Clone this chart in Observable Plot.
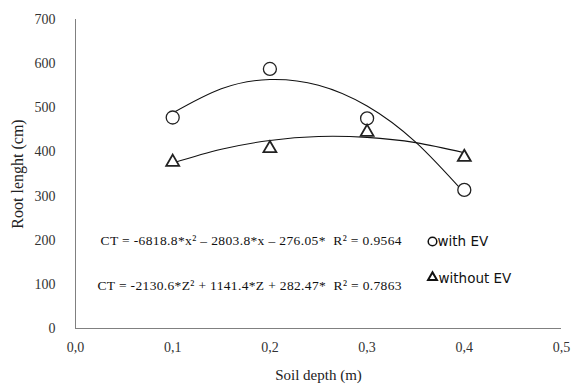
<!DOCTYPE html>
<html>
<head>
<meta charset="utf-8">
<script src="https://cdn.jsdelivr.net/npm/d3@7"></script>
<script src="https://cdn.jsdelivr.net/npm/@observablehq/plot@0.6"></script>
<style>
  html, body { margin: 0; padding: 0; background: #fff; }
  #chart svg { display: block; }
</style>
</head>
<body>
<div id="chart"></div>
<script>
// Observed points
const depths = [0.1, 0.2, 0.3, 0.4];
const withEV = [478, 588, 476, 314];
const withoutEV = [377, 408, 445, 388];

// Trend lines
const trendDepths = [0.1, 0.15, 0.2, 0.25, 0.3, 0.35, 0.4];
const trendWithEV = [488, 543, 564, 551, 504, 422, 307];
const trendWithoutEV = [375, 406, 426, 435, 433, 421, 398];

// Ticks and texts
const xTicks = [0, 0.1, 0.2, 0.3, 0.4, 0.5];
const yTicks = [0, 100, 200, 300, 400, 500, 600, 700];
const eqWith = "CT = -6818.8*x² – 2803.8*x – 276.05*  R² = 0.9564";
const eqWithout = "CT = -2130.6*Z² + 1141.4*Z + 282.47*  R² = 0.7863";
const legendWith = "with EV";
const legendWithout = "without EV";
const xLabel = "Soil depth (m)";
const yLabel = "Root lenght (cm)";

const pts = depths.map((d, i) => ({d, w: withEV[i], wo: withoutEV[i]}));
const trend = trendDepths.map((d, i) => ({d, w: trendWithEV[i], wo: trendWithoutEV[i]}));

const serif = "'Liberation Serif', 'Times New Roman', serif";
const sans = "'DejaVu Sans', Verdana, sans-serif";

const chart = Plot.plot({
  width: 574,
  height: 388,
  marginLeft: 75,
  marginRight: 13,
  marginTop: 19,
  marginBottom: 60,
  style: {fontFamily: serif, background: "#fff"},
  x: {domain: [0, 0.5]},
  y: {domain: [0, 700]},
  marks: [
    Plot.axisY({ticks: yTicks, tickSize: 0, tickPadding: 20, label: null, fontSize: 14, fill: "#333"}),
    Plot.axisX({ticks: xTicks, tickSize: 0, tickPadding: 14, label: null, fontSize: 14, fill: "#333",
      tickFormat: v => d3.format(".1f")(v).replace(".", ",")}),
    Plot.ruleX([0], {stroke: "#808080", strokeWidth: 1}),
    Plot.ruleY([0], {stroke: "#808080", strokeWidth: 1}),
    Plot.line(trend, {x: "d", y: "w", curve: "natural", stroke: "#111", strokeWidth: 1.1}),
    Plot.line(trend, {x: "d", y: "wo", curve: "natural", stroke: "#111", strokeWidth: 1.1}),
    Plot.dot(pts, {x: "d", y: "w", symbol: "circle", r: 6.5, stroke: "#222", strokeWidth: 1.3, fill: "#fff"}),
    Plot.dot(pts, {x: "d", y: "wo", symbol: "triangle", r: 4.8, stroke: "#222", strokeWidth: 1.8, fill: "#fff"}),
    Plot.text([eqWith], {text: d => d, frameAnchor: "top-left", dx: 25, dy: 221, textAnchor: "start", lineAnchor: "middle", fontSize: 13.5, fill: "#111"}),
    Plot.text([eqWithout], {text: d => d, frameAnchor: "top-left", dx: 22, dy: 266, textAnchor: "start", lineAnchor: "middle", fontSize: 13.5, fill: "#111"}),
    Plot.dot([legendWith], {frameAnchor: "top-left", dx: 357, dy: 222, symbol: "circle", r: 4.3, stroke: "#111", strokeWidth: 1.5, fill: "none"}),
    Plot.dot([legendWithout], {frameAnchor: "top-left", dx: 357, dy: 258, symbol: "triangle", r: 3.3, stroke: "#111", strokeWidth: 2, fill: "none"}),
    Plot.text([legendWith], {text: d => d, frameAnchor: "top-left", dx: 362, dy: 222, textAnchor: "start", lineAnchor: "middle", fontSize: 13.5, fontFamily: sans, fill: "#111"}),
    Plot.text([legendWithout], {text: d => d, frameAnchor: "top-left", dx: 363, dy: 259, textAnchor: "start", lineAnchor: "middle", fontSize: 13.5, fontFamily: sans, fill: "#111"}),
    Plot.text([xLabel], {text: d => d, frameAnchor: "bottom", dy: 47, textAnchor: "middle", lineAnchor: "middle", fontSize: 15, fill: "#222"}),
    Plot.text([yLabel], {text: d => d, frameAnchor: "left", dx: -58, rotate: -90, textAnchor: "middle", lineAnchor: "middle", fontSize: 16, fill: "#222"})
  ]
});
// Stretch the equation labels to the width they occupy in the reference
d3.select(chart).selectAll("text").each(function() {
  const t = this.textContent;
  if (t === eqWith) d3.select(this).attr("textLength", 301).attr("lengthAdjust", "spacing");
  if (t === eqWithout) d3.select(this).attr("textLength", 304).attr("lengthAdjust", "spacing");
});
document.getElementById("chart").appendChild(chart);
</script>
</body>
</html>
